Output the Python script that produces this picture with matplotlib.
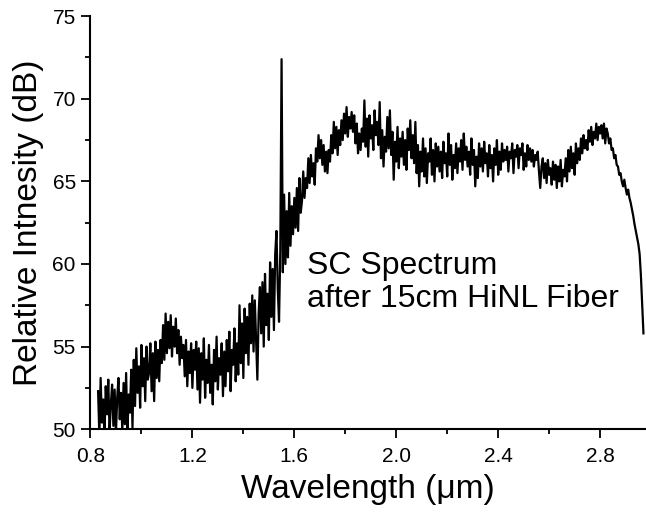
import numpy as np
import matplotlib
matplotlib.use("Agg")
import matplotlib.pyplot as plt
from matplotlib.ticker import MultipleLocator

plt.rcParams["font.family"] = ["Liberation Sans", "DejaVu Sans"]

wl_start = 0.830
wl_step = 0.005
intensity = [
    # 0.830 - 0.925
    52.3, 49.6, 53.1, 50.4, 51.8, 49.5, 52.6, 50.9, 53.0, 49.8, 51.5, 52.7, 50.2, 52.4, 49.7, 51.9, 53.1, 50.6, 52.2, 49.9,
    # 0.930 - 1.025
    52.8, 50.3, 53.4, 49.8, 52.1, 51.0, 53.6, 50.1, 54.2, 51.4, 54.9, 52.2, 53.8, 51.3, 55.1, 52.6, 54.3, 51.7, 55.0, 53.0,
    # 1.030 - 1.125
    53.4, 55.2, 52.3, 54.6, 51.7, 55.3, 53.1, 54.8, 52.9, 55.4, 54.0, 56.3, 54.2, 57.0, 54.6, 56.5, 54.9, 56.9, 54.4, 56.2,
    # 1.130 - 1.225
    55.0, 56.7, 54.6, 56.0, 53.9, 55.6, 54.3, 55.1, 53.2, 55.4, 52.6, 54.7, 53.4, 55.2, 52.5, 54.8, 53.6, 55.3, 52.4, 54.9,
    # 1.230 - 1.325
    51.6, 54.6, 53.0, 55.5, 51.9, 54.2, 52.8, 55.1, 52.2, 53.9, 51.5, 54.8, 52.9, 55.6, 52.4, 54.3, 53.3, 55.2, 52.0, 54.7,
    # 1.330 - 1.425
    52.6, 55.4, 53.5, 55.9, 52.3, 54.8, 53.9, 56.1, 52.9, 55.2, 53.3, 57.5, 54.0, 56.4, 53.1, 57.3, 54.6, 56.8, 53.9, 57.6,
    # 1.430 - 1.525
    55.2, 58.1, 54.7, 57.8, 55.5, 53.0, 57.0, 58.6, 55.8, 58.9, 55.0, 59.4, 56.3, 58.2, 55.4, 60.1, 56.8, 59.7, 56.0, 60.6,
    # 1.530 - 1.625 (pump line at 1.55)
    62.0, 58.5, 56.5, 60.8, 72.4, 59.5, 64.2, 60.0, 63.2, 60.4, 64.3, 61.1, 63.5, 61.8, 64.0, 62.2, 64.6, 62.0, 65.2, 63.1,
    # 1.630 - 1.725
    63.8, 65.6, 64.0, 65.2, 64.6, 66.4, 64.9, 66.6, 65.3, 66.1, 64.8, 67.0, 66.2, 67.8, 66.4, 67.5, 66.0, 67.2, 65.6, 66.8,
    # 1.730 - 1.825
    65.5, 66.9, 66.2, 67.8, 66.7, 68.6, 67.0, 68.3, 66.6, 68.1, 67.2, 68.7, 67.5, 69.1, 67.9, 69.5, 67.7, 68.9, 68.2, 69.2,
    # 1.830 - 1.925
    68.0, 69.0, 67.3, 68.5, 66.7, 67.9, 66.9, 68.2, 67.4, 69.9, 67.1, 68.8, 66.5, 69.0, 67.6, 68.4, 66.9, 69.3, 67.8, 68.6,
    # 1.930 - 2.025
    67.2, 69.8, 66.4, 68.1, 65.9, 67.7, 66.8, 68.9, 67.0, 69.3, 66.6, 68.0, 65.1, 67.4, 66.2, 68.3, 65.8, 67.6, 66.5, 68.0,
    # 2.030 - 2.125
    66.0, 67.5, 65.7, 68.2, 66.9, 68.7, 66.4, 67.8, 66.1, 68.6, 65.5, 67.2, 64.7, 66.8, 65.6, 67.6, 65.3, 67.0, 64.9, 66.7,
    # 2.130 - 2.225
    66.2, 67.6, 65.4, 66.9, 65.0, 67.3, 65.9, 67.1, 65.6, 66.8, 65.2, 67.4, 66.1, 66.7, 65.3, 67.9, 66.0, 67.2, 65.1, 66.6,
    # 2.230 - 2.325
    65.8, 67.3, 65.5, 67.0, 66.2, 67.5, 65.7, 67.9, 66.3, 67.1, 65.9, 66.8, 65.4, 67.6, 66.0, 66.9, 64.7, 66.5, 65.2, 67.3,
    # 2.330 - 2.425
    65.9, 67.0, 65.6, 67.4, 66.1, 66.7, 65.3, 67.2, 65.8, 66.6, 65.0, 67.0, 66.0, 67.5, 65.4, 66.8, 65.7, 67.3, 66.2, 66.9,
    # 2.430 - 2.525
    66.3, 67.1, 65.6, 66.8, 66.4, 67.3, 65.5, 66.9, 66.5, 67.2, 65.8, 67.0, 66.6, 67.3, 65.7, 66.7, 65.9, 67.2, 66.3, 67.0,
    # 2.530 - 2.625
    66.2, 66.9, 65.9, 66.6, 66.3, 66.8, 65.6, 64.6, 65.9, 66.4, 65.2, 66.1, 64.9, 66.3, 65.4, 65.8, 64.8, 66.2, 65.1, 66.0,
    # 2.630 - 2.725
    64.6, 65.9, 65.0, 66.3, 64.7, 65.7, 65.3, 66.4, 65.0, 66.9, 65.6, 67.1, 65.8, 66.7, 65.4, 67.3, 66.1, 67.0, 66.3, 67.6,
    # 2.730 - 2.825
    66.7, 67.8, 67.0, 67.5, 66.9, 68.1, 67.4, 68.3, 67.2, 68.0, 67.6, 68.5, 67.5, 68.3, 67.9, 68.4, 67.6, 68.5, 67.3, 68.2,
    # 2.830 - 2.925
    67.9, 67.3, 67.6, 66.9, 67.0, 66.4, 66.6, 66.0, 65.9, 65.4, 65.5, 65.0, 64.7, 65.1, 64.6, 64.2, 64.5, 64.0, 63.7, 63.3,
    # 2.930 - 2.970
    62.9, 62.4, 62.0, 61.6, 61.2, 60.6, 59.3, 57.5, 55.8,
]
wavelength = wl_start + wl_step * np.arange(len(intensity))

x_ticks = [0.8, 1.2, 1.6, 2.0, 2.4, 2.8]
y_ticks = [50, 55, 60, 65, 70, 75]

fig = plt.figure(figsize=(6.46, 5.14), dpi=100)
ax = fig.add_axes([0.140, 0.165, 0.860, 0.8035])

ax.plot(wavelength, intensity, color="black", linewidth=1.6)

ax.set_xlim(0.8, 2.98)
ax.set_ylim(50, 75)
ax.set_xticks(x_ticks)
ax.set_xticklabels([f"{t:.1f}" for t in x_ticks])
ax.set_yticks(y_ticks)
ax.xaxis.set_minor_locator(MultipleLocator(0.2))
ax.yaxis.set_minor_locator(MultipleLocator(2.5))

for side in ["top", "right"]:
    ax.spines[side].set_visible(False)
for side in ["left", "bottom"]:
    ax.spines[side].set_linewidth(1.5)

ax.tick_params(axis="both", which="major", direction="out", length=6.5, width=1.3,
               labelsize=15)
ax.tick_params(axis="both", which="minor", direction="out", length=3.5, width=1.3)
ax.tick_params(axis="x", which="major", pad=6)
ax.tick_params(axis="y", which="major", pad=4)

ax.set_xlabel("Wavelength (\u03bcm)", fontsize=24, labelpad=6)
ax.set_ylabel("Relative Intnesity (dB)", fontsize=24, labelpad=6)

ax.text(1.65, 60.8, "SC Spectrum\nafter 15cm HiNL Fiber", fontsize=23,
        ha="left", va="top", linespacing=1.15)

fig.savefig("out.png", dpi=100)
